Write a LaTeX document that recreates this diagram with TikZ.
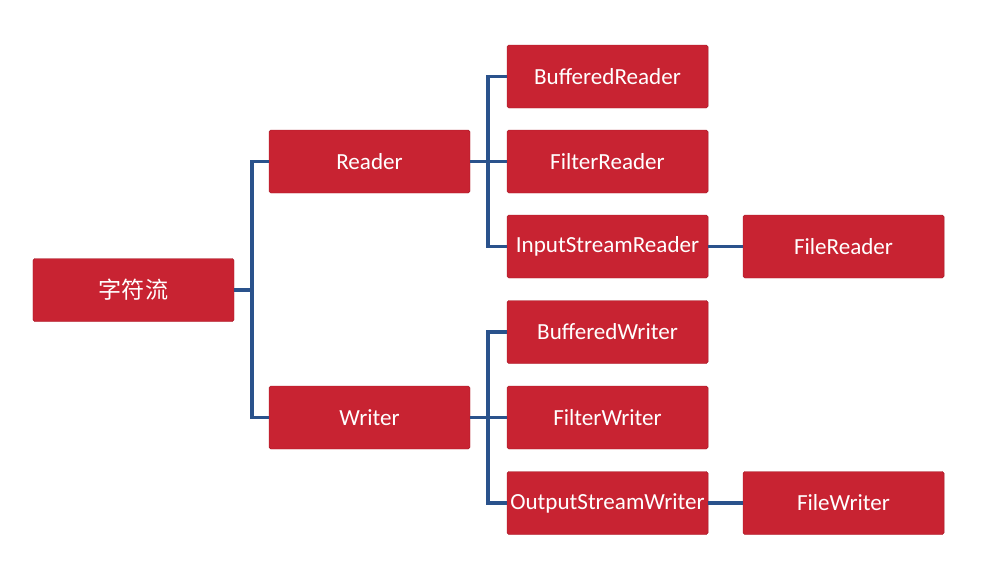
\documentclass[tikz,border=0pt]{standalone}
\usepackage{fontspec}
\setmainfont{Carlito}
\newfontfamily\cjk{Noto Sans CJK SC}
\usepackage{tikz}
\usetikzlibrary{positioning, calc}
\definecolor{boxRed}{RGB}{200, 35, 50}
\definecolor{boxEdge}{RGB}{165, 25, 38}
\definecolor{linkBlue}{RGB}{42, 82, 140}

\begin{document}
\begin{tikzpicture}[
    x=0.03cm, y=-0.03cm,
    classbox/.style={rectangle, rounded corners=1.5pt, draw=boxEdge, fill=boxRed, text=white, minimum width=6.03cm, minimum height=1.89cm, font=\fontsize{19.7}{22}\selectfont, inner sep=0pt},
    link/.style={-, line width=3pt, linkBlue}
]
    % Frame (keeps the page at the reference size)
    \useasboundingbox (0, 0) rectangle (990, 585);

    % Root
    \node[classbox] (root) at (133.5, 290) {\cjk 字符流};

    % Abstract base classes
    \node[classbox] (reader) at (369.5, 161.5) {Reader};
    \node[classbox] (writer) at (369.5, 417.5) {Writer};

    % Reader subclasses
    \node[classbox] (bufreader) at (607.5, 76.5) {BufferedReader};
    \node[classbox] (filtreader) at (607.5, 161.5) {FilterReader};
    \node[classbox] (isreader) at (607.5, 246.5) {InputStreamReader};
    \node[classbox] (filereader) at (843.5, 246.5) {FileReader};

    % Writer subclasses
    \node[classbox] (bufwriter) at (607.5, 332) {BufferedWriter};
    \node[classbox] (filtwriter) at (607.5, 417.5) {FilterWriter};
    \node[classbox] (oswriter) at (607.5, 503) {OutputStreamWriter};
    \node[classbox] (filewriter) at (843.5, 503) {FileWriter};

    % Root to base classes
    \draw[link] (root.east) -- ++(18, 0) |- (reader.west);
    \draw[link] (root.east) -- ++(18, 0) |- (writer.west);

    % Reader branches
    \draw[link] (reader.east) -- ++(18, 0) |- (bufreader.west);
    \draw[link] (reader.east) -- (filtreader.west);
    \draw[link] (reader.east) -- ++(18, 0) |- (isreader.west);
    \draw[link] (isreader.east) -- (filereader.west);

    % Writer branches
    \draw[link] (writer.east) -- ++(18, 0) |- (bufwriter.west);
    \draw[link] (writer.east) -- (filtwriter.west);
    \draw[link] (writer.east) -- ++(18, 0) |- (oswriter.west);
    \draw[link] (oswriter.east) -- (filewriter.west);
\end{tikzpicture}
\end{document}
